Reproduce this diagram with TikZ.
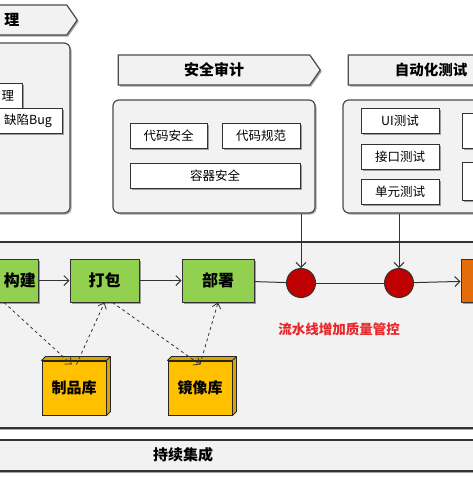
\documentclass[tikz,border=0pt]{standalone}
\usepackage{fontspec}
\setmainfont{Noto Sans CJK SC}
\usepackage{tikz}
\usetikzlibrary{shapes.symbols}
\usetikzlibrary{shadows}
\usetikzlibrary{arrows.meta}

\definecolor{panelgray}{HTML}{F2F2F2}
\definecolor{stagegreen}{HTML}{92D050}
\definecolor{gatered}{HTML}{C00000}
\definecolor{repoyellow}{HTML}{FFC000}
\definecolor{testorange}{HTML}{E46C0A}
\definecolor{notered}{HTML}{E8262A}

\begin{document}
\begin{tikzpicture}[x=1pt, y=-1pt,
    softshadow/.style={drop shadow={shadow xshift=1.5pt, shadow yshift=-1.5pt, opacity=.35, fill=black}},
    banner/.style={signal, signal to=east, signal pointer angle=110, draw=black!70, fill=panelgray,
        line width=1.2pt, minimum height=30pt, inner sep=0pt, font=\fontsize{15}{15}\selectfont\bfseries, softshadow},
    panel/.style={draw=black!70, fill=panelgray, line width=1.2pt, rounded corners=6pt, softshadow},
    item/.style={draw=black!80, fill=white, line width=1pt, minimum height=25pt, inner sep=0pt,
        font=\fontsize{12.5}{12.5}\selectfont, softshadow},
    stage/.style={draw=black!80, fill=stagegreen, line width=1pt, minimum height=43pt, inner sep=0pt,
        font=\fontsize{16}{16}\selectfont\bfseries, softshadow},
    gate/.style={circle, draw=black!80, fill=gatered, line width=1pt, minimum size=29pt, inner sep=0pt},
    repo/.style={draw=black!85, fill=repoyellow, line width=1pt, minimum width=64pt, minimum height=54pt,
        inner sep=0pt, font=\fontsize{15}{15}\selectfont\bfseries},
    cube/.style={draw=black!85, fill=repoyellow!85!black, line width=0.8pt, line join=round},
    flow/.style={-{Straight Barb[length=5pt, width=10pt]}, line width=1pt, black!80},
    fetch/.style={-{Straight Barb[length=5pt, width=9pt]}, dashed, line width=0.8pt, black!80}]
    \path[use as bounding box, clip] (0,0) rectangle (473,477);

    % stages at the top
    \node[banner, minimum width=102pt] (bugbanner) at (21,20) {};
    \node (bugtitle) at (12,20) {\fontsize{15}{15}\selectfont\bfseries 理};
    \node[panel, minimum width=100pt, minimum height=170pt] (bugpanel) at (20,128) {};
    \node[item, minimum width=52pt] (bugmgr) at (-4,96) {};
    \node (bugmgrtxt) at (8,96) {\fontsize{12.5}{12.5}\selectfont 理};
    \node[item, minimum width=92pt] (bugitem) at (16,120.5) {};
    \node (bugitemtxt) at (28,120.5) {\fontsize{12.5}{12.5}\selectfont 缺陷Bug};

    \node[banner, minimum width=202pt] (secbanner) at (214,70) {安全审计};
    \node[panel, minimum width=202pt, minimum height=113pt] (secpanel) at (214,156.5) {};
    \node[item, minimum width=77pt] (codesafe) at (168.5,135.5) {代码安全};
    \node[item, minimum width=78pt] (codestyle) at (261,135.5) {代码规范};
    \node[item, minimum width=170pt] (boxsafe) at (215,175.5) {容器安全};

    \node[banner, minimum width=222pt] (testbanner) at (454,70) {};
    \node[font=\fontsize{14.5}{14.5}\selectfont\bfseries] (testtitle) at (431,70) {自动化测试};
    \node[panel, minimum width=222pt, minimum height=113pt] (testpanel) at (454,156.5) {};
    \node[item, minimum width=78pt] (uitest) at (400,120.5) {UI测试};
    \node[item, minimum width=78pt] (apitest) at (400,156.5) {接口测试};
    \node[item, minimum width=78pt] (unittest) at (400,191.5) {单元测试};
    \node[item, minimum width=78pt, minimum height=35pt] (extra1) at (501,130.5) {};
    \node[item, minimum width=78pt, minimum height=38pt] (extra2) at (501,181) {};

    % pipeline
    \node[draw=black!80, fill=panelgray, line width=1.2pt, minimum width=483pt, minimum height=186pt, softshadow]
        (pipeline) at (236.5,335) {};
    \node[stage, minimum width=68pt] (build) at (4,280.5) {};
    \node[font=\fontsize{16}{16}\selectfont\bfseries] (buildtxt) at (20,280.5) {构建};
    \node[stage, minimum width=69pt] (pack) at (104.5,280.5) {打包};
    \node[stage, minimum width=72pt] (deploy) at (218,280.5) {部署};
    \node[gate] (gate1) at (301,283) {};
    \node[gate] (gate2) at (399,283) {};
    \node[stage, fill=testorange, minimum width=69pt] (release) at (495.5,280.5) {};
    \node[text=notered, font=\fontsize{13.5}{13.5}\selectfont\bfseries] (note) at (339,329) {流水线增加质量管控};
    \node[repo] (artifact) at (74,388) {制品库};
    \node[repo] (mirror) at (200,388) {镜像库};

    % repo top and side faces
    \draw[cube] (artifact.north west) -- ++(4,-4) -- ([shift={(4,-4)}]artifact.north east)
        -- ([shift={(4,-4)}]artifact.south east) -- (artifact.south east) -- (artifact.north east) -- cycle;
    \draw[cube] (artifact.north east) -- ++(4,-4);
    \draw[cube] (mirror.north west) -- ++(4,-4) -- ([shift={(4,-4)}]mirror.north east)
        -- ([shift={(4,-4)}]mirror.south east) -- (mirror.south east) -- (mirror.north east) -- cycle;
    \draw[cube] (mirror.north east) -- ++(4,-4);

    \node[draw=black!80, fill=panelgray, line width=1.2pt, minimum width=483pt, minimum height=31pt, softshadow]
        (ci) at (236.5,455.5) {};
    \node[font=\fontsize{15}{15}\selectfont\bfseries] (citxt) at (183,455) {持续集成};

    % edges
    \draw[flow] (build) -- (pack);
    \draw[flow] (pack) -- (deploy);
    \draw[line width=1pt, black!80] (deploy) -- (gate1);
    \draw[line width=1pt, black!80] (gate1) -- (gate2);
    \draw[flow] (gate2) -- (release);
    \draw[flow] (gate1 |- secpanel.south) -- (gate1);
    \draw[flow] (gate2 |- testpanel.south) -- (gate2);
    \draw[fetch] (build.south) -- ([yshift=-4pt]artifact.95);
    \draw[fetch] ([yshift=-4pt]artifact.85) -- (pack.south);
    \draw[fetch] (pack.-70) -- ([yshift=-4pt]mirror.north);
    \draw[fetch] ([yshift=-4pt]mirror.north) -- (deploy.south);
\end{tikzpicture}
\end{document}
